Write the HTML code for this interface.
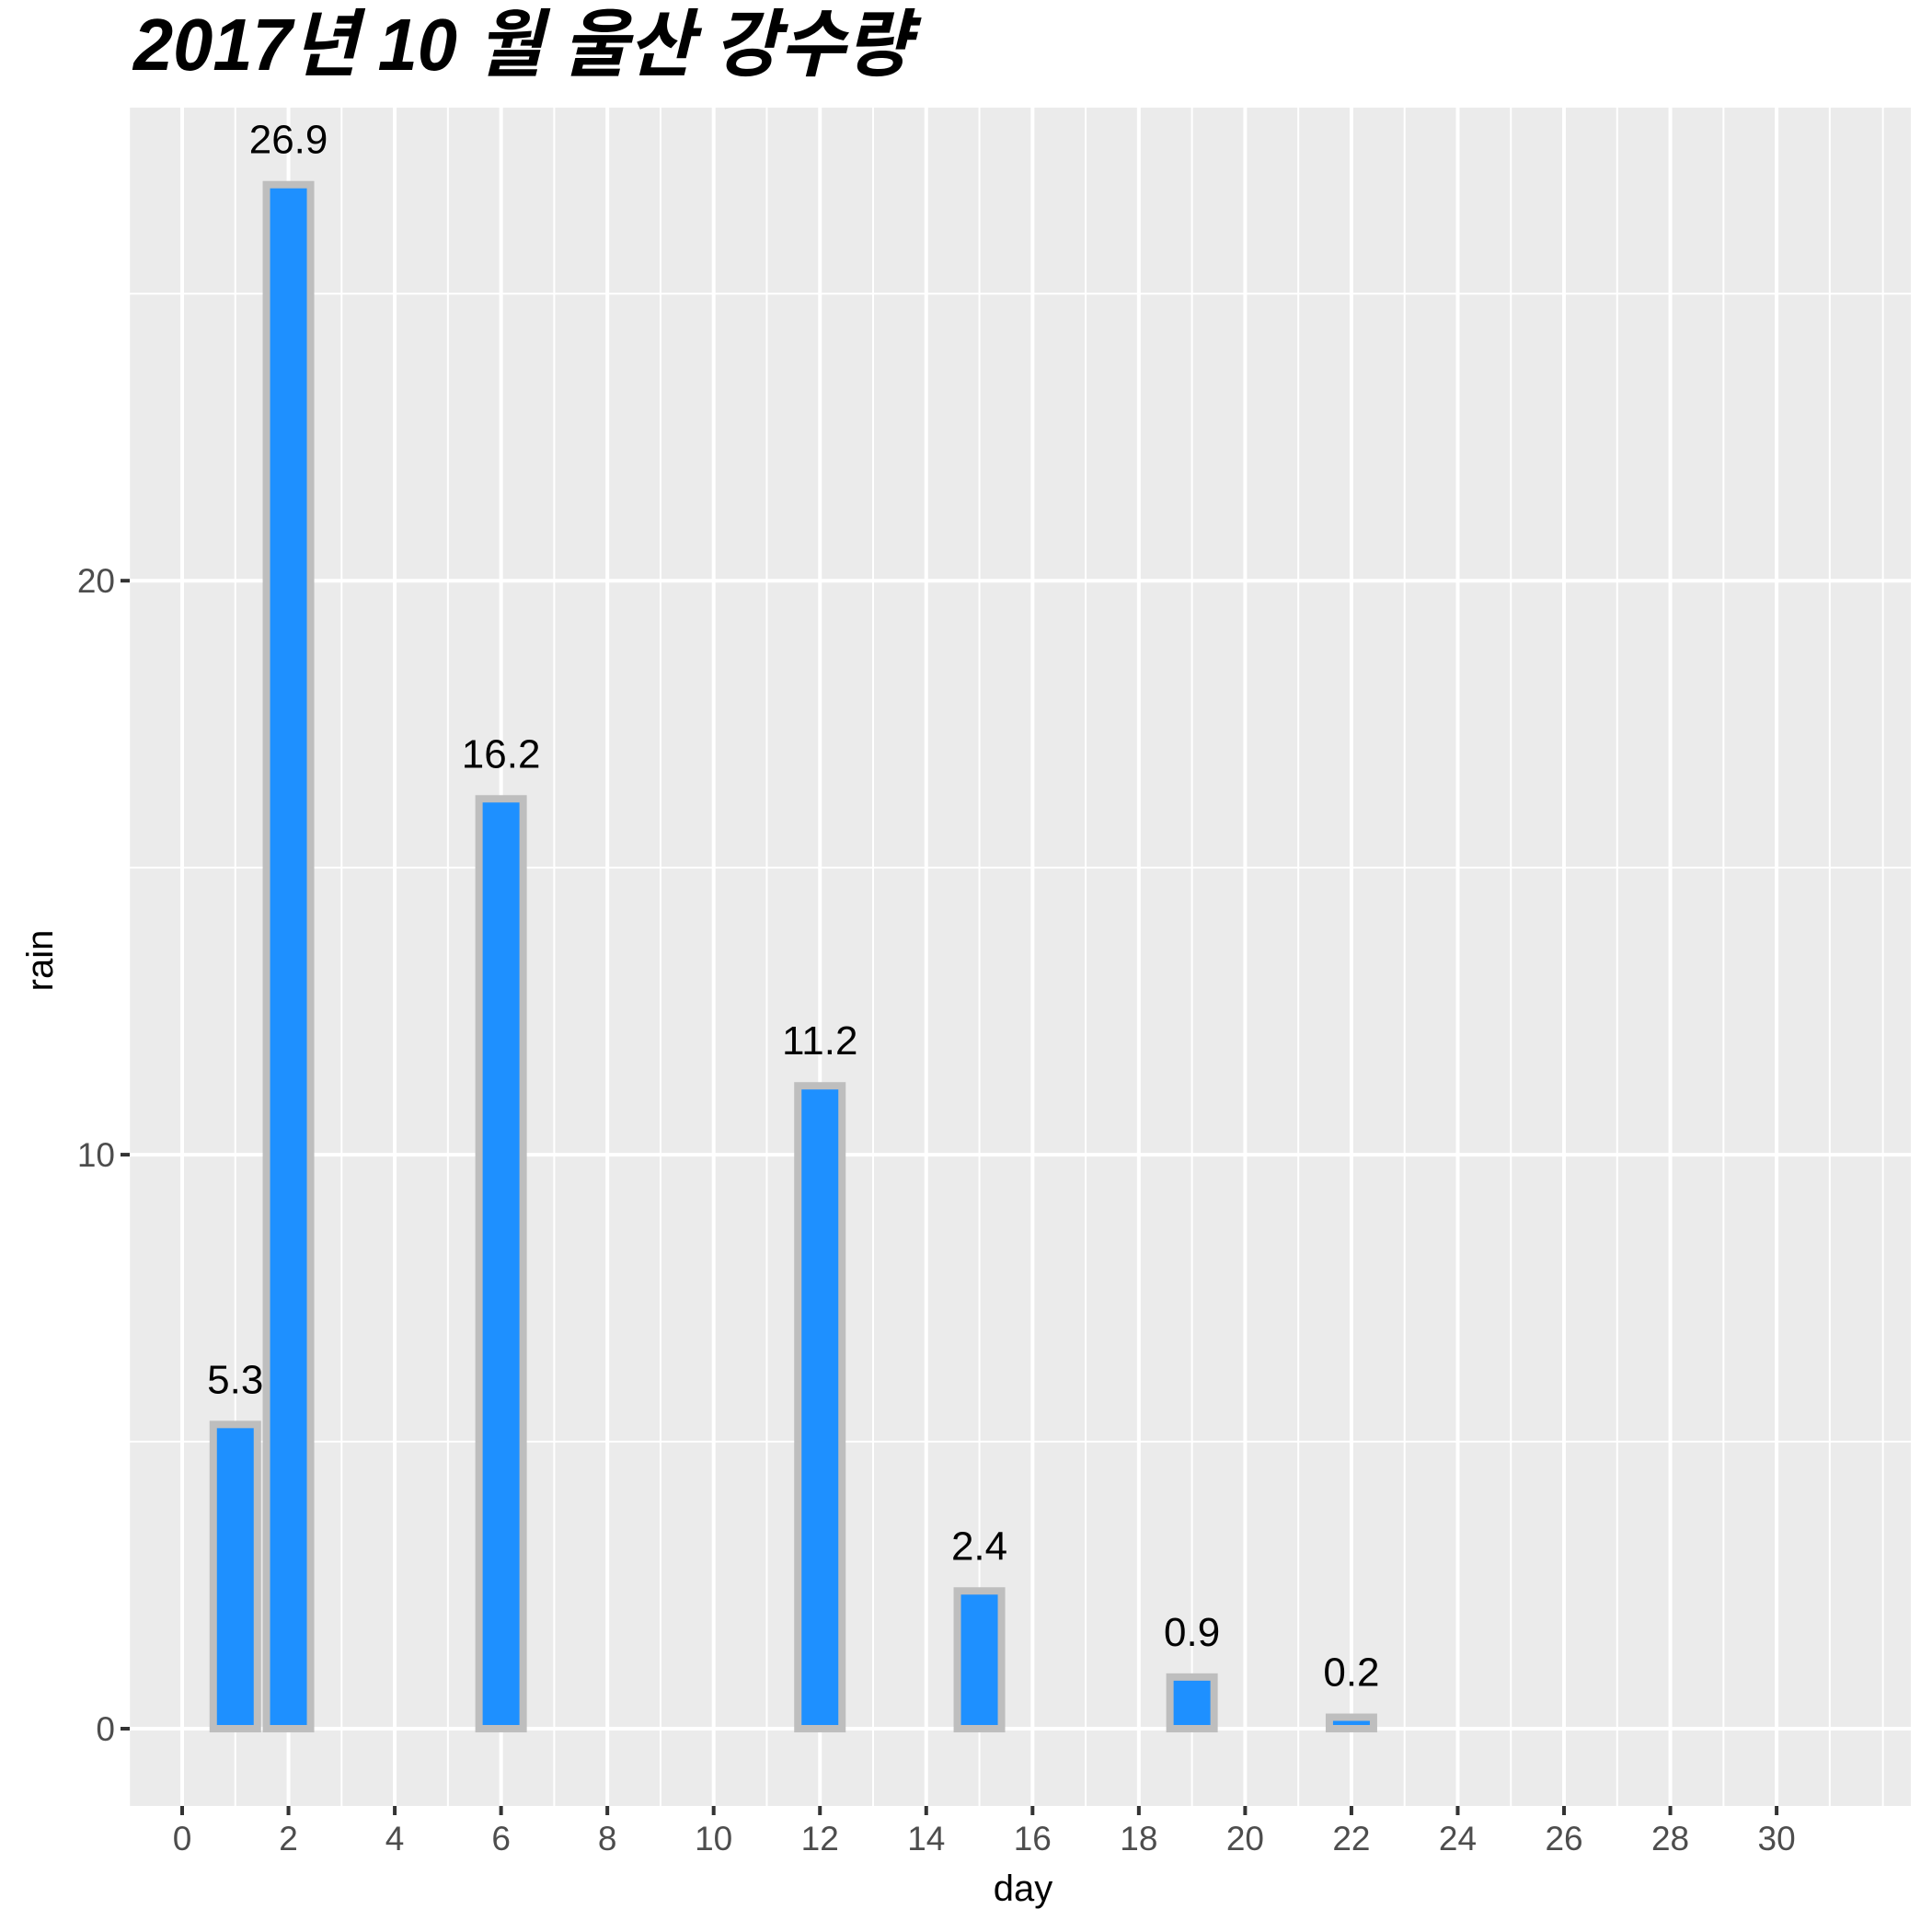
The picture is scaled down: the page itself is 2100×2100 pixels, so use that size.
<!DOCTYPE html>
<html><head><meta charset="utf-8"><style>html,body{margin:0;padding:0;background:#fff}svg{display:block}</style></head>
<body>
<svg id="chart" width="2100" height="2100" xmlns="http://www.w3.org/2000/svg" font-family="Liberation Sans, 'Noto Sans CJK KR', sans-serif">
<text x="145" y="76" font-size="80" font-weight="bold" font-style="italic" textLength="845" lengthAdjust="spacingAndGlyphs" font-family="Liberation Sans, 'Noto Sans CJK KR', sans-serif">2017년 10 월 울산 강수량</text>
<rect x="141" y="117" width="1936" height="1846" fill="#ebebeb"/>
<g id="grid"></g><g id="bars"></g><g id="axes"></g>
<text x="1112" y="2066" font-size="40" text-anchor="middle">day</text>
<text transform="translate(57,1044) rotate(-90)" font-size="40" text-anchor="middle">rain</text>
</svg>
<script>
const days = [1, 2, 6, 12, 15, 19, 22];
const rain = [5.3, 26.9, 16.2, 11.2, 2.4, 0.9, 0.2];
const rainLabels = ["5.3", "26.9", "16.2", "11.2", "2.4", "0.9", "0.2"];
const xTicks = [0,2,4,6,8,10,12,14,16,18,20,22,24,26,28,30];
const yTicks = [0, 10, 20];
const yMinor = [5, 15, 25];

const NS = "http://www.w3.org/2000/svg";
const X = d => 198 + d * 57.77;
const Y = v => 1879 - v * 62.39;
const L = 141, R = 2077, T = 117, B = 1963;
function mk(tag, attrs, parent, txt) {
  const e = document.createElementNS(NS, tag);
  for (const k in attrs) e.setAttribute(k, attrs[k]);
  if (txt !== undefined) e.textContent = txt;
  parent.appendChild(e);
  return e;
}
const grid = document.getElementById('grid');
const bars = document.getElementById('bars');
const axes = document.getElementById('axes');
for (const v of yMinor) {
  const e = mk('line', {x1: L, x2: R, y1: Y(v), y2: Y(v), stroke: '#fff', 'stroke-width': 2}, grid);
  
  
}
for (let d = -1; d <= 32; d++) {
  const major = d % 2 === 0 && d >= 0 && d <= 30;
  const e = mk('line', {x1: X(d), x2: X(d), y1: T, y2: B, stroke: '#fff', 'stroke-width': major ? 4 : 2}, grid);
  
  
}
for (const v of yTicks) {
  const e = mk('line', {x1: L, x2: R, y1: Y(v), y2: Y(v), stroke: '#fff', 'stroke-width': 4}, grid);
  
  
  const t = mk('line', {x1: L - 10, x2: L, y1: Y(v), y2: Y(v), stroke: '#333', 'stroke-width': 4}, axes);
  
  
  const l = mk('text', {x: L - 16, y: Y(v) + 13, 'font-size': 37, fill: '#4d4d4d', 'text-anchor': 'end'}, axes, String(v));
  
  
}
for (const d of xTicks) {
  const t = mk('line', {x1: X(d), x2: X(d), y1: B, y2: B + 10, stroke: '#333', 'stroke-width': 4}, axes);
  
  
  const l = mk('text', {x: X(d), y: B + 48, 'font-size': 37, fill: '#4d4d4d', 'text-anchor': 'middle'}, axes, String(d));
  
  
}
const bw = 0.9 * 57.77;
days.forEach((d, i) => {
  const y0 = Y(0), y1 = Y(rain[i]);
  const r = mk('rect', {x: X(d) - bw / 2 + 2, y: y1, width: bw - 4, height: y0 - y1, fill: '#1e90ff', stroke: '#bebebe', 'stroke-width': 8}, bars);
  
  
  const t = mk('text', {x: X(d), y: y1 - 34, 'font-size': 44, fill: '#000', 'text-anchor': 'middle'}, bars, rainLabels[i]);
  
  
});
</script>
</body></html>
